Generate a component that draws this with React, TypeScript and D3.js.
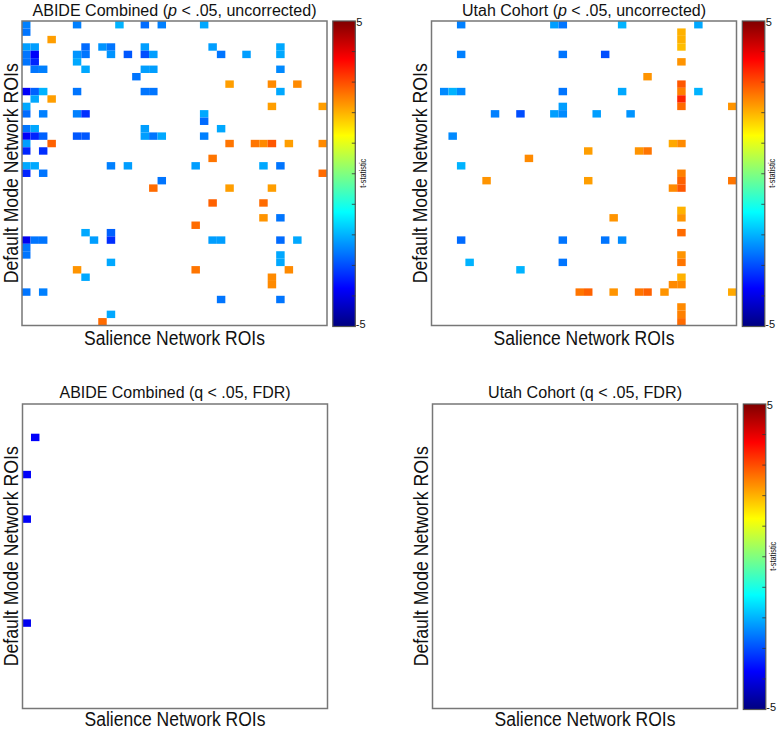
import React from "react";
import * as d3 from "d3";

// ---- data: [default-mode ROI row, salience ROI column, t-statistic] ----
const salienceROIs = d3.range(36);
const defaultModeROIs = d3.range(41);
const tDomain: [number, number] = [-5, 5];
const colorbarTicks = [-4, -3, -2, -1, 0, 1, 2, 3, 4];
const colorbarEndLabels = ["5", "-5"];

const abideUncorrected: [number, number, number][] = [
  [0, 0, -2.5], [0, 6, -2.5], [0, 11, -2.0], [0, 14, -2.7], [0, 16, -2.5], [0, 21, -2.1],
  [1, 0, -2.6],
  [2, 3, 2.2],
  [3, 0, -2.2], [3, 1, -2.2], [3, 7, -2.7], [3, 9, -2.3], [3, 10, -2.6], [3, 14, -2.2], [3, 22, -2.2], [3, 30, -2.1],
  [4, 0, -2.6], [4, 1, -3.8], [4, 6, -2.3], [4, 7, -2.6], [4, 10, -2.3], [4, 12, -2.9], [4, 14, -3.0], [4, 15, -2.2], [4, 23, -2.6], [4, 26, -2.2], [4, 30, -2.1],
  [5, 0, -2.6], [5, 1, -3.4], [5, 6, -2.1],
  [6, 1, -2.6], [6, 2, -2.5], [6, 7, -2.1], [6, 14, -2.2], [6, 15, -2.2], [6, 30, -2.4],
  [7, 13, -2.6],
  [8, 24, 2.2], [8, 29, 2.4], [8, 32, 2.4],
  [9, 0, -3.8], [9, 1, -2.8], [9, 2, -2.0], [9, 6, -2.6], [9, 14, -2.6], [9, 15, -2.6], [9, 30, -2.1],
  [10, 1, -2.1], [10, 3, 2.2],
  [11, 0, -2.1], [11, 29, 2.2], [11, 35, 2.2],
  [12, 0, -2.7], [12, 2, -2.5], [12, 6, -2.5], [12, 7, -3.3], [12, 21, -2.1],
  [13, 21, -2.7],
  [14, 0, -2.6], [14, 1, -2.1], [14, 14, -2.2], [14, 23, -2.1],
  [15, 0, -3.8], [15, 1, -3.4], [15, 2, -2.8], [15, 6, -2.9], [15, 7, -2.9], [15, 14, -2.2], [15, 15, -2.6], [15, 16, -2.1], [15, 21, -2.5],
  [16, 0, -2.2], [16, 3, 2.8], [16, 24, 2.6], [16, 27, 2.6], [16, 28, 2.4], [16, 29, 2.9], [16, 31, 2.2], [16, 35, 2.4],
  [17, 0, -3.4], [17, 2, -3.3],
  [18, 22, 2.6],
  [19, 0, -2.1], [19, 1, -2.1], [19, 10, -2.5], [19, 12, -2.2], [19, 20, -2.2], [19, 28, -2.1], [19, 30, -2.6],
  [20, 0, -3.4], [20, 2, -2.6], [20, 35, 2.7],
  [21, 16, -2.6],
  [22, 15, 2.7], [22, 24, 2.2], [22, 29, 2.2],
  [24, 22, 2.8], [24, 28, 2.7],
  [26, 28, 2.3], [26, 30, -2.6],
  [27, 20, 2.7],
  [28, 7, -2.1], [28, 10, -2.8],
  [29, 0, -3.9], [29, 1, -2.6], [29, 2, -2.6], [29, 8, -2.2], [29, 10, -3.3], [29, 22, -2.2], [29, 23, -2.2], [29, 30, -2.7], [29, 32, -2.1],
  [30, 0, -2.6],
  [31, 0, -2.6], [31, 30, -2.1],
  [32, 10, -2.1], [32, 30, -2.1],
  [33, 6, 2.3], [33, 20, 2.6], [33, 31, 2.4],
  [34, 7, -2.1], [34, 29, 2.4],
  [35, 29, 2.4],
  [36, 0, -2.6], [36, 2, -2.5],
  [37, 23, -2.6], [37, 30, -2.6],
  [39, 10, -2.1],
  [40, 9, 2.7],
];

const utahUncorrected: [number, number, number][] = [
  [0, 3, -2.5], [0, 14, -2.2], [0, 15, -2.6], [0, 22, -2.0], [0, 31, -2.1],
  [1, 29, 2.0], [2, 29, 2.0], [3, 29, 1.9],
  [4, 3, -2.5], [4, 15, -2.6], [4, 20, -3.0],
  [5, 29, 2.3],
  [7, 25, 2.3],
  [8, 29, 2.9],
  [9, 1, -2.4], [9, 2, -2.0], [9, 3, -2.4], [9, 15, -2.6], [9, 22, -2.1], [9, 29, 2.5], [9, 31, -2.0],
  [10, 29, 3.4],
  [11, 15, -2.2], [11, 29, 2.7], [11, 35, 2.3],
  [12, 7, -2.5], [12, 10, -3.0], [12, 14, -2.2], [12, 15, -2.4], [12, 19, -2.2], [12, 23, -2.3],
  [15, 2, -2.4],
  [16, 28, 2.1], [16, 29, 2.4],
  [17, 18, 2.2], [17, 24, 2.3], [17, 25, 2.6],
  [18, 11, 2.4],
  [19, 3, -2.0],
  [20, 29, 2.5],
  [21, 6, 2.3], [21, 18, 2.2], [21, 29, 2.8], [21, 35, 2.6],
  [22, 28, 2.4], [22, 29, 2.9],
  [25, 29, 2.0],
  [26, 21, 2.3], [26, 29, 2.3],
  [28, 29, 2.7],
  [29, 3, -2.7], [29, 15, -2.6], [29, 20, -2.6], [29, 22, -2.4],
  [31, 29, 2.3],
  [32, 4, -2.0], [32, 15, -2.6], [32, 29, 2.6],
  [33, 10, -2.0],
  [34, 29, 2.0],
  [35, 28, 2.4], [35, 29, 2.4],
  [36, 17, 2.6], [36, 18, 2.8], [36, 21, 2.3], [36, 24, 2.6], [36, 25, 2.8], [36, 27, 2.3], [36, 35, 2.1],
  [38, 29, 2.4], [39, 29, 2.5], [40, 29, 2.7],
];

const abideFDR: [number, number, number][] = [
  [4, 1, -3.8], [9, 0, -3.8], [15, 0, -3.8], [29, 0, -3.9],
];

const utahFDR: [number, number, number][] = [];

const xAxisTitle = "Salience Network ROIs";
const yAxisTitle = "Default Mode Network ROIs";
const colorbarTitle = "t-statistic";

// ---- colour map (MATLAB jet) ----
const clamp01 = (v: number) => Math.max(0, Math.min(1, v));
function jet(v: number): string {
  const r = clamp01(1.5 - Math.abs(4 * v - 3));
  const g = clamp01(1.5 - Math.abs(4 * v - 2));
  const b = clamp01(1.5 - Math.abs(4 * v - 1));
  return d3.rgb(r * 255, g * 255, b * 255).formatHex();
}
const color = d3.scaleSequential(jet).domain(tDomain);

const FONT = "'Liberation Sans Narrow', 'Arial Narrow', 'Liberation Sans', Arial, sans-serif";

type Panel = {
  id: string;
  title: React.ReactNode;
  titleLen: number;
  data: [number, number, number][];
  x: number;
  y: number;
  colorbar: boolean;
  xLabelY: number;
  titleY: number;
};

const PW = 305;
const PH = 304.5;

const panels: Panel[] = [
  {
    id: "p1",
    title: (<>ABIDE Combined (<tspan fontStyle="italic">p</tspan> &lt; .05, uncorrected)</>),
    titleLen: 284,
    data: abideUncorrected,
    x: 22,
    y: 21,
    colorbar: true,
    xLabelY: 345,
    titleY: 15.5,
  },
  {
    id: "p2",
    title: (<>Utah Cohort (<tspan fontStyle="italic">p</tspan> &lt; .05, uncorrected)</>),
    titleLen: 244,
    data: utahUncorrected,
    x: 431.5,
    y: 21,
    colorbar: true,
    xLabelY: 345,
    titleY: 15.5,
  },
  {
    id: "p3",
    title: <>ABIDE Combined (q &lt; .05, FDR)</>,
    titleLen: 231,
    data: abideFDR,
    x: 22.5,
    y: 404,
    colorbar: false,
    xLabelY: 726,
    titleY: 398,
  },
  {
    id: "p4",
    title: <>Utah Cohort (q &lt; .05, FDR)</>,
    titleLen: 194,
    data: utahFDR,
    x: 432.5,
    y: 404,
    colorbar: true,
    xLabelY: 726,
    titleY: 398,
  },
];

const gradStops = d3.range(0, 65).map((i) => i / 64);

function PanelView({ p }: { p: Panel }) {
  const xs = d3.scaleBand<number>().domain(salienceROIs).range([p.x, p.x + PW]);
  const ys = d3.scaleBand<number>().domain(defaultModeROIs).range([p.y, p.y + PH]);
  const cx = p.x + PW / 2;
  const cy = p.y + PH / 2;
  const cbX = p.x + PW + 5.8;
  const cbW = 22.5;
  const cbScale = d3.scaleLinear().domain(tDomain).range([p.y + PH + 1, p.y]);
  return (
    <g>
      <text
        x={cx}
        y={p.titleY}
        textAnchor="middle"
        fontFamily={FONT}
        fontSize={16}
        textLength={p.titleLen}
        lengthAdjust="spacingAndGlyphs"
        fill="#111"
      >
        {p.title}
      </text>
      <rect x={p.x} y={p.y} width={PW} height={PH} fill="#fff" />
      {p.data.map(([r, c, t], i) => (
        <rect
          key={i}
          x={xs(c)}
          y={ys(r)}
          width={xs.bandwidth()}
          height={ys.bandwidth()}
          fill={color(t)}
        />
      ))}
      <rect x={p.x} y={p.y} width={PW} height={PH} fill="none" stroke="#777" strokeWidth={1.5} />
      <text
        x={cx}
        y={p.xLabelY}
        textAnchor="middle"
        fontFamily={FONT}
        fontSize={20}
        textLength={181}
        lengthAdjust="spacingAndGlyphs"
        fill="#111"
      >
        {xAxisTitle}
      </text>
      <text
        transform={`translate(${p.x - 4.5},${cy}) rotate(-90)`}
        textAnchor="middle"
        fontFamily={FONT}
        fontSize={20}
        textLength={220}
        lengthAdjust="spacingAndGlyphs"
        fill="#111"
      >
        {yAxisTitle}
      </text>
      {p.colorbar && (
        <g>
          <defs>
            <linearGradient id={`grad-${p.id}`} x1="0" y1="1" x2="0" y2="0">
              {gradStops.map((s) => (
                <stop key={s} offset={s} stopColor={jet(s)} />
              ))}
            </linearGradient>
          </defs>
          <rect
            x={cbX}
            y={cbScale(5)}
            width={cbW}
            height={cbScale(-5) - cbScale(5)}
            fill={`url(#grad-${p.id})`}
            stroke="#555"
            strokeWidth={1.2}
          />
          {colorbarTicks.map((t) => (
            <line
              key={t}
              x1={cbX + cbW - 3.5}
              x2={cbX + cbW}
              y1={cbScale(t)}
              y2={cbScale(t)}
              stroke="#333"
              strokeWidth={0.8}
            />
          ))}
          <text x={cbX + cbW + 1} y={cbScale(5) + 5} fontFamily={FONT} fontSize={11} fill="#111">
            {colorbarEndLabels[0]}
          </text>
          <text x={cbX + cbW + 0.5} y={cbScale(-5) + 1} fontFamily={FONT} fontSize={11} fill="#111">
            {colorbarEndLabels[1]}
          </text>
          <text
            transform={`translate(${cbX + cbW + 10.5},${cy}) rotate(-90)`}
            textAnchor="middle"
            fontFamily={FONT}
            fontSize={9.5}
            textLength={29}
            lengthAdjust="spacingAndGlyphs"
            fill="#111"
          >
            {colorbarTitle}
          </text>
        </g>
      )}
    </g>
  );
}

export default function App() {
  return (
    <svg
      width={778}
      height={729}
      viewBox="0 0 778 729"
      style={{ position: "absolute", left: 0, top: 0, background: "#fff" }}
    >
      <rect x={0} y={0} width={778} height={729} fill="#fff" />
      {panels.map((p) => (
        <PanelView key={p.id} p={p} />
      ))}
    </svg>
  );
}
